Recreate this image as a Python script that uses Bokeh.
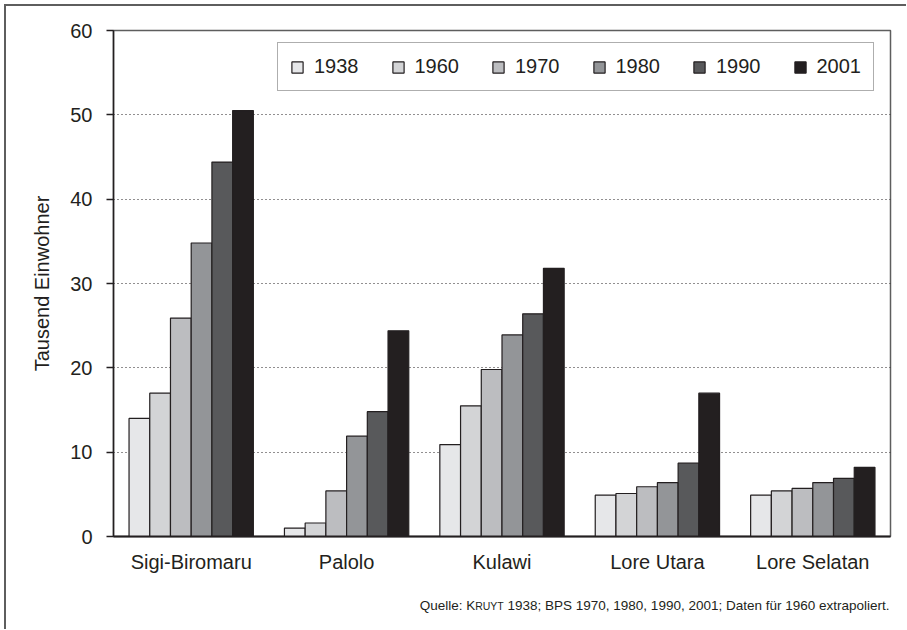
from bokeh.plotting import figure
from bokeh.layouts import column
from bokeh.models import ColumnDataSource, FactorRange, FixedTicker, Legend, LegendItem
from bokeh.core.properties import value
from bokeh.transform import dodge
from bokeh.embed import file_html
from bokeh.resources import INLINE

districts = ["Sigi-Biromaru", "Palolo", "Kulawi", "Lore Utara", "Lore Selatan"]
years = ["1938", "1960", "1970", "1980", "1990", "2001"]
v1938 = [14.0, 1.0, 10.9, 4.9, 4.9]
v1960 = [17.0, 1.6, 15.5, 5.1, 5.4]
v1970 = [25.9, 5.4, 19.8, 5.9, 5.7]
v1980 = [34.8, 11.9, 23.9, 6.4, 6.4]
v1990 = [44.4, 14.8, 26.4, 8.7, 6.9]
v2001 = [50.5, 24.4, 31.8, 17.0, 8.2]
colors = ["#e6e7e9", "#d3d4d6", "#bcbdc0", "#939598", "#58595b", "#231f20"]
yticks = [0, 10, 20, 30, 40, 50, 60]
source_note = ["Quelle: K", "RUYT", "1938; BPS 1970, 1980, 1990, 2001; Daten für 1960 extrapoliert."]

src = ColumnDataSource(dict(district=districts, y1938=v1938, y1960=v1960, y1970=v1970,
                            y1980=v1980, y1990=v1990, y2001=v2001))

FONT = "Liberation Sans"
DARK = "#231f20"
FRAME = "#5e5e5e"

W, H1, H2 = 900, 585, 38
FL, FR = 113, 890  # page x of the plot frame edges (the note strip's frame is aligned to it)
p = figure(x_range=FactorRange(*districts, range_padding=0), y_range=(0, 60),
           width=W, height=H1, output_backend="svg", toolbar_location=None,
           min_border_left=107, min_border_right=16, min_border_top=24, min_border_bottom=H1 - 530)

bw = 0.8 / 6
renderers = []
for i, yr in enumerate(years):
    off = -0.4 + bw / 2 + i * bw
    r = p.vbar(x=dodge("district", off, range=p.x_range), top="y" + yr, width=bw, source=src,
               fill_color=colors[i], line_color=DARK, line_width=1.2)
    renderers.append(r)

legend = Legend(items=[LegendItem(label=yr, renderers=[r]) for yr, r in zip(years, renderers)],
                orientation="horizontal", location=(164, 445), margin=0, padding=12,
                spacing=32, label_standoff=10, glyph_width=14, glyph_height=14,
                label_text_font=FONT, label_text_font_size="20px", label_text_color=DARK,
                border_line_color=FRAME, border_line_width=1.5,
                background_fill_alpha=1)
p.add_layout(legend)

p.outline_line_color = FRAME
p.outline_line_width = 1.5
p.xgrid.grid_line_color = None
p.ygrid.ticker = FixedTicker(ticks=yticks)
p.ygrid.grid_line_color = DARK
p.ygrid.grid_line_dash = "1 3"
p.ygrid.grid_line_width = 1

p.yaxis.ticker = FixedTicker(ticks=yticks)
p.yaxis.axis_label = "Tausend Einwohner"
p.yaxis.axis_label_text_font = FONT
p.yaxis.axis_label_text_font_size = "20px"
p.yaxis.axis_label_text_font_style = "normal"
p.yaxis.axis_label_text_color = DARK
p.yaxis.axis_label_standoff = 14
p.yaxis.major_label_text_font = FONT
p.yaxis.major_label_text_font_size = "20px"
p.yaxis.major_label_text_color = DARK
p.yaxis.major_label_standoff = 14
p.yaxis.major_tick_out = 7
p.yaxis.major_tick_in = 0
p.yaxis.minor_tick_out = 0
p.yaxis.minor_tick_in = 0
p.yaxis.axis_line_color = DARK
p.yaxis.axis_line_width = 1.5
p.yaxis.major_tick_line_color = DARK
p.yaxis.major_tick_line_width = 1.5

p.xaxis.major_label_text_font = FONT
p.xaxis.major_label_text_font_size = "20px"
p.xaxis.major_label_text_color = DARK
p.xaxis.major_label_standoff = 14
p.xaxis.major_tick_out = 0
p.xaxis.major_tick_in = 0
p.xaxis.axis_line_color = DARK
p.xaxis.axis_line_width = 2

# source note strip, x in page pixels; "KRUYT" set in small caps; left-anchored pieces
fs_big = 13.5
fs_small = 10.5
space = 0.278 * fs_big
widths = [4.113 * fs_big, 2.722 * fs_small + space, 28.296 * fs_big]
sizes = [fs_big, fs_small, fs_big]
left = 889 - sum(widths)
base = H2 - (605 - 6 - H1)
q = figure(width=W, height=H2, x_range=(FL, FR), y_range=(0, H2), output_backend="svg",
           toolbar_location=None, min_border=0, x_axis_location=None, y_axis_location=None)
q.grid.visible = False
q.outline_line_color = None
xpos = left
for txt, w, fs in zip(source_note, widths, sizes):
    q.text(x=[xpos], y=[base], text=[txt], text_font_size=f"{fs}px",
           text_font=value(FONT), text_color=DARK, text_align="left", text_baseline="alphabetic")
    xpos += w

layout = column(p, q, spacing=0)
layout.styles = {"margin-left": "4px", "margin-top": "4px",
                 "border-top": f"2px solid {FRAME}", "border-left": f"2px solid {FRAME}"}

open("out.html", "w").write(file_html(layout, INLINE))
